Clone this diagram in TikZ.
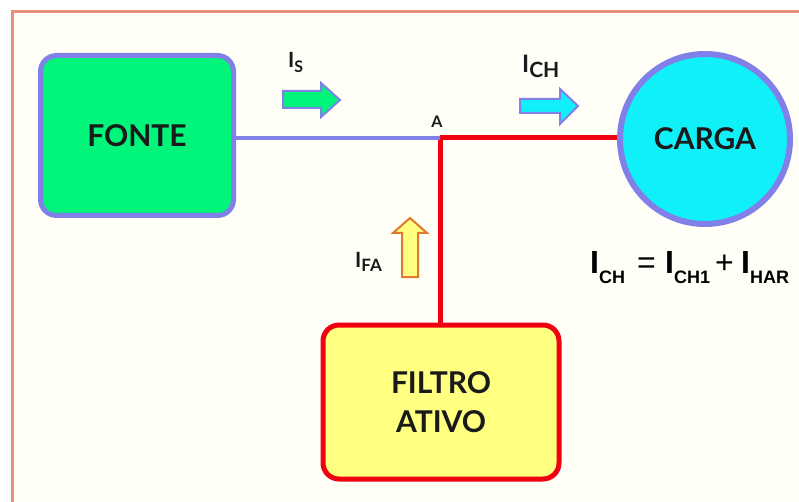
\documentclass[tikz,border=0pt]{standalone}
\usepackage{fontspec}
\setmainfont{Lato}
\newfontfamily\eqfont{Liberation Sans}
\definecolor{frame}{HTML}{E8907A}
\definecolor{bluel}{HTML}{8080E8}
\definecolor{greenf}{HTML}{00F57A}
\definecolor{cyanf}{HTML}{10F0F8}
\definecolor{redl}{HTML}{F00010}
\definecolor{yellowf}{HTML}{FFFF80}
\definecolor{orangel}{HTML}{E07830}
\definecolor{txt}{HTML}{1A1A1A}
\tikzset{
  blockbox/.style={rounded corners=16pt, line width=5pt, text=txt, font=\bfseries\fontsize{30}{39}\selectfont, align=center},
  wireblue/.style={line width=4.5pt, draw=bluel},
  wirered/.style={line width=5pt, draw=redl},
  flowarrow/.style={line width=2pt, line join=miter},
  curlabel/.style={text=txt, font=\bfseries\fontsize{21}{24}\selectfont, inner sep=0pt},
  eqbig/.style={text=black, anchor=base west, inner sep=0pt, font=\eqfont\bfseries\fontsize{32}{36}\selectfont},
  eqsub/.style={text=black, anchor=base west, inner sep=0pt, font=\eqfont\bfseries\fontsize{18}{20}\selectfont},
  eqop/.style={text=black, anchor=base west, inner sep=0pt, font=\eqfont\fontsize{32}{36}\selectfont},
}
\begin{document}
\begin{tikzpicture}[x=1pt,y=-1pt]
\useasboundingbox (0,0) rectangle (799,502);
\fill[white] (0,0) rectangle (799,502);
\fill[white!97!yellow] (12,12) rectangle (799,502);
\draw[frame, line width=3pt] (12,505) -- (12,12) -- (802,12);

% blocks
\node[blockbox, draw=bluel, fill=greenf, minimum width=193pt, minimum height=160pt] (fonte) at (137,135.5) {FONTE};
\node[circle, draw=bluel, fill=cyanf, line width=6pt, minimum size=170pt, text=txt, font=\bfseries\fontsize{30}{36}\selectfont, inner sep=0pt] (carga) at (705,139) {CARGA};
\node[blockbox, draw=redl, fill=yellowf, minimum width=236pt, minimum height=154pt] (filtro) at (441,402) {FILTRO\\ATIVO};

% junction
\coordinate (A) at (440,138);
\draw[wireblue] (fonte.east |- A) -- (A);
\draw[wirered] (A) -- (carga.west |- A);
\draw[wirered] ([yshift=-2.5pt]A) -- (filtro.north -| A);
\node[text=txt, font=\bfseries\fontsize{16}{18}\selectfont, inner sep=0pt, anchor=base] (alabel) at (437,128) {A};

% current arrows
\draw[flowarrow, draw=bluel, fill=greenf] (283,91) -- (321,91) -- (321,83) -- (340,100) -- (321,117) -- (321,108) -- (283,108) -- cycle;
\node[curlabel, anchor=base west] (is) at (288,68) {I\raisebox{-5pt}{\fontsize{16}{18}\selectfont S}};

\draw[flowarrow, draw=bluel, fill=cyanf] (520,99) -- (560,99) -- (560,89) -- (578,106) -- (560,124) -- (560,113) -- (520,113) -- cycle;
\node[curlabel, anchor=base west, font=\bfseries\fontsize{24}{26}\selectfont] (ich) at (522,73) {I\raisebox{-5pt}{\fontsize{21}{24}\selectfont CH}};

\draw[flowarrow, draw=orangel, fill=yellowf] (402,277) -- (402,233) -- (393,233) -- (410,218) -- (427,233) -- (418,233) -- (418,277) -- cycle;
\node[curlabel, anchor=base west] (ifa) at (355,267) {I\raisebox{-4pt}{\fontsize{17}{19}\selectfont FA}};

% equation
\node[eqbig] (eqa) at (590,273) {I};
\node[eqsub] (eqb) at (599,283) {CH};
\node[eqop] (eqc) at (637,273) {=};
\node[eqbig] (eqd) at (665,273) {I};
\node[eqsub] (eqe) at (674,283) {CH1};
\node[eqop] (eqf) at (715,273) {+};
\node[eqbig] (eqg) at (741,273) {I};
\node[eqsub] (eqh) at (750,283) {HAR};
\end{tikzpicture}
\end{document}
